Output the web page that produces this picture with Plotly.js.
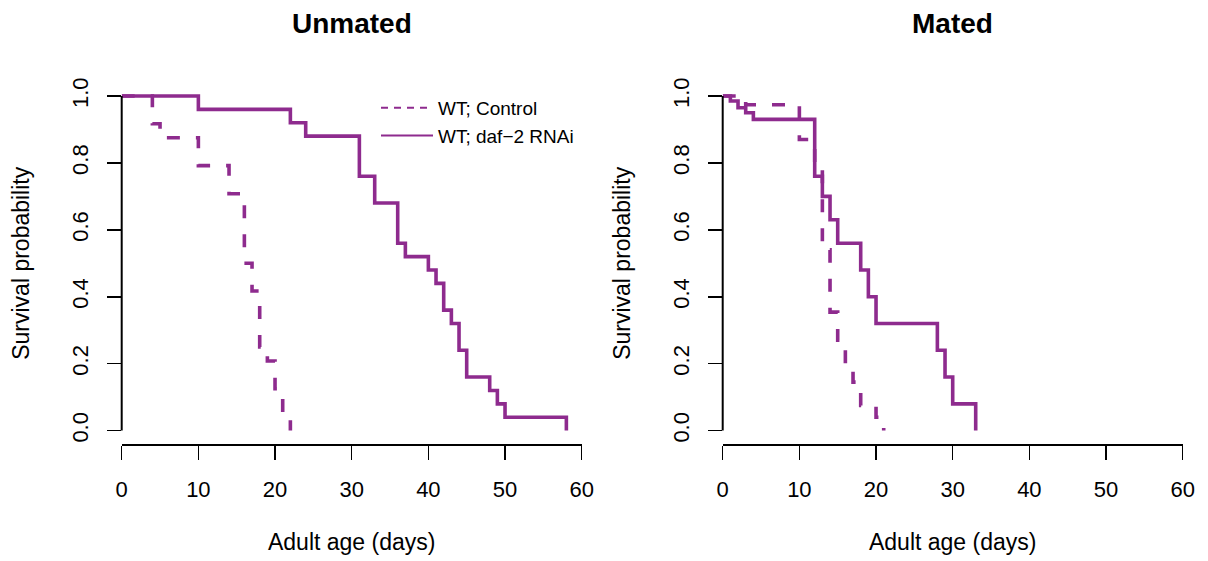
<!DOCTYPE html>
<html>
<head>
<meta charset="utf-8">
<script src="https://cdn.plot.ly/plotly-3.0.1.min.js"></script>
<style>html,body{margin:0;padding:0;background:#fff;}#chart{width:1208px;height:561px;}</style>
</head>
<body>
<div id="chart"></div>
<script>
// ---- data ----
const panelTitles = ["Unmated", "Mated"];
const seriesNames = ["WT; Control", "WT; daf\u22122 RNAi"];

const unmatedControlDays = [0, 4, 5, 10, 14, 16, 17, 18, 19, 20, 21, 22];
const unmatedControlSurv = [1, 0.917, 0.875, 0.792, 0.708, 0.5, 0.417, 0.25, 0.208, 0.125, 0.042, 0];

const unmatedDaf2Days = [0, 10, 22, 24, 31, 33, 36, 37, 40, 41, 42, 43, 44, 45, 48, 49, 50, 58];
const unmatedDaf2Surv = [1, 0.96, 0.92, 0.88, 0.76, 0.68, 0.56, 0.52, 0.48, 0.44, 0.36, 0.32, 0.24, 0.16, 0.12, 0.08, 0.04, 0];

const matedControlDays = [0, 3, 10, 12, 13, 14, 15, 16, 17, 18, 20, 21];
const matedControlSurv = [1, 0.974, 0.87, 0.79, 0.54, 0.354, 0.27, 0.18, 0.145, 0.075, 0.04, 0];

const matedDaf2Days = [0, 1, 2, 3, 4, 12, 13, 14, 15, 18, 19, 20, 28, 29, 30, 33];
const matedDaf2Surv = [1, 0.985, 0.965, 0.95, 0.93, 0.76, 0.70, 0.63, 0.56, 0.48, 0.40, 0.32, 0.24, 0.16, 0.08, 0];

const xTickVals = [0, 10, 20, 30, 40, 50, 60];
const yTickVals = [0, 0.2, 0.4, 0.6, 0.8, 1.0];
const yTickText = ["0.0", "0.2", "0.4", "0.6", "0.8", "1.0"];

// ---- styling ----
const PURPLE = "#8E2B8E";
const FONT = "Liberation Sans, Arial, Helvetica, sans-serif";
const W = 1208, H = 561;
const M = {l: 100, r: 15, t: 60, b: 110};
const PW = W - M.l - M.r, PH = H - M.t - M.b;
function dx(px) { return (px - M.l) / PW; }
function dy(py) { return (M.t + PH - py) / PH; }

const Y_RANGE = [-0.04, 1.04];
const Y_DOMAIN = [dy(444), dy(82.6)];
const X1_DOMAIN = [dx(121.7), dx(581.7)];
const X2_DOMAIN = [dx(722.7), dx(1182.7)];
// paper-y position of a y value (for the R-style y axis line spanning first..last tick)
function yPaper(v) { return Y_DOMAIN[0] + (v - Y_RANGE[0]) / (Y_RANGE[1] - Y_RANGE[0]) * (Y_DOMAIN[1] - Y_DOMAIN[0]); }

const curveDash = "13px,16px";
function km(x, y, xa, ya, dash) {
  return {x: x, y: y, xaxis: xa, yaxis: ya, type: "scatter", mode: "lines",
    line: {shape: "hv", color: PURPLE, width: 3.6, dash: dash},
    showlegend: false, hoverinfo: "x+y"};
}

const traces = [
  km(unmatedControlDays, unmatedControlSurv, "x", "y", curveDash),
  km(unmatedDaf2Days, unmatedDaf2Surv, "x", "y", "solid"),
  km(matedControlDays, matedControlSurv, "x2", "y2", curveDash),
  km(matedDaf2Days, matedDaf2Surv, "x2", "y2", "solid"),
  {x: [null], y: [null], xaxis: "x", yaxis: "y", type: "scatter", mode: "lines", name: seriesNames[0],
   line: {color: PURPLE, width: 2, dash: "7px,6px"}, showlegend: true},
  {x: [null], y: [null], xaxis: "x", yaxis: "y", type: "scatter", mode: "lines", name: seriesNames[1],
   line: {color: PURPLE, width: 2, dash: "solid"}, showlegend: true}
];

function xAxis(dom) {
  return {domain: dom, range: [0, 60], tickvals: xTickVals, ticks: "outside", ticklen: 14,
    tickwidth: 1.5, tickcolor: "#000", showline: true, linecolor: "#000", linewidth: 1.6,
    showgrid: false, zeroline: false, ticklabelstandoff: 11,
    tickfont: {family: FONT, size: 22, color: "#000"},
    title: {text: "Adult age (days)", font: {family: FONT, size: 23, color: "#000"}, standoff: 33}};
}
function yAxis(anchor) {
  return {domain: Y_DOMAIN, range: Y_RANGE, tickvals: yTickVals, ticktext: yTickText,
    tickangle: -90, ticks: "outside", ticklen: 14, tickwidth: 1.5, tickcolor: "#000",
    showline: false, showgrid: false, zeroline: false, anchor: anchor, ticklabelstandoff: 10,
    tickfont: {family: FONT, size: 22, color: "#000"},
    title: {text: "Survival probability", font: {family: FONT, size: 23, color: "#000"}, standoff: 31}};
}

function yAxisLine(xDomain) {
  return {type: "line", xref: "paper", yref: "paper", x0: xDomain[0], x1: xDomain[0],
    y0: yPaper(yTickVals[0]), y1: yPaper(yTickVals[yTickVals.length - 1]),
    line: {color: "#000", width: 2}, layer: "above"};
}

const layout = {
  width: W, height: H, margin: M, paper_bgcolor: "#fff", plot_bgcolor: "#fff",
  font: {family: FONT, color: "#000"},
  xaxis: Object.assign(xAxis(X1_DOMAIN), {anchor: "y"}),
  yaxis: yAxis("x"),
  xaxis2: Object.assign(xAxis(X2_DOMAIN), {anchor: "y2"}),
  yaxis2: yAxis("x2"),
  showlegend: true,
  legend: {x: dx(376), y: dy(89), xanchor: "left", yanchor: "top", bgcolor: "rgba(0,0,0,0)",
    font: {family: FONT, size: 19, color: "#000"}, tracegroupgap: 0, itemwidth: 52},
  shapes: [yAxisLine(X1_DOMAIN), yAxisLine(X2_DOMAIN)],
  annotations: [
    {text: "<b>" + panelTitles[0] + "</b>", xref: "x domain", yref: "paper", x: 0.5, y: dy(23),
     xanchor: "center", yanchor: "middle", showarrow: false, font: {family: FONT, size: 28, color: "#000"}},
    {text: "<b>" + panelTitles[1] + "</b>", xref: "x2 domain", yref: "paper", x: 0.5, y: dy(23),
     xanchor: "center", yanchor: "middle", showarrow: false, font: {family: FONT, size: 28, color: "#000"}}
  ]
};

Plotly.newPlot("chart", traces, layout, {displayModeBar: false, staticPlot: true});
</script>
</body>
</html>
